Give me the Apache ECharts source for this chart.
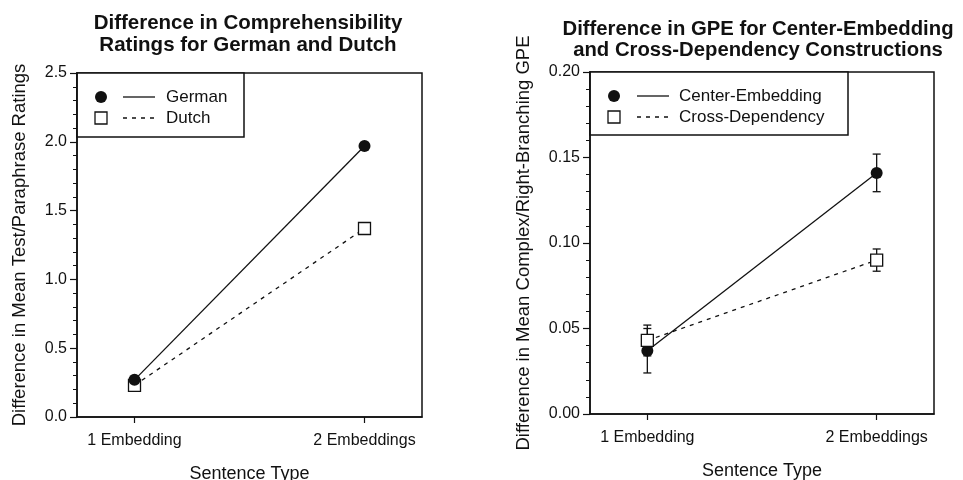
<!DOCTYPE html>
<html>
<head>
<meta charset="utf-8">
<script src="https://cdn.jsdelivr.net/npm/echarts@6/dist/echarts.min.js"></script>
<style>
  html, body { margin: 0; padding: 0; background: #fff; }
  #chart { width: 963px; height: 480px; }
</style>
</head>
<body>
<div id="chart"></div>
<script>
// categories on the x axis (placed at x = 1 and x = 2)
const categories = ['1 Embedding', '2 Embeddings'];
const catX = [1, 2];

// left panel: comprehensibility ratings
const germanVals = [0.27, 1.97];
const dutchVals = [0.23, 1.37];

// right panel: GPE, mean and error (+/-)
const centerVals = [0.037, 0.141];
const centerErr = [0.013, 0.011];
const crossVals = [0.043, 0.090];
const crossErr = [0.009, 0.0065];

const leftTicks = [0, 0.5, 1.0, 1.5, 2.0, 2.5];
const rightTicks = [0, 0.05, 0.10, 0.15, 0.20];

const FONT = '"Liberation Sans", Arial, Helvetica, sans-serif';
const INK = '#111';

const G1 = { left: 77, top: 73, width: 345, height: 344 };
const G2 = { left: 590, top: 72, width: 344, height: 342 };

const pts = vals => vals.map((v, i) => [catX[i], v]);
const errs = (vals, e) => vals.map((v, i) => [catX[i], v - e[i], v + e[i]]);

function xAxisOf(idx) {
  return {
    type: 'value', gridIndex: idx, min: 0.75, max: 2.25,
    axisLine: { show: true, onZero: false, lineStyle: { color: INK, width: 1.5 } },
    axisTick: { show: true, length: 6, customValues: catX, lineStyle: { color: INK, width: 1.2 } },
    axisLabel: {
      customValues: catX, margin: 16, color: INK, fontFamily: FONT, fontSize: 16,
      formatter: v => categories[Math.round(v) - 1] || ''
    },
    splitLine: { show: false },
    name: 'Sentence Type', nameLocation: 'middle', nameGap: 48,
    nameTextStyle: { color: INK, fontFamily: FONT, fontSize: 18 }
  };
}

function yAxisOf(idx, ticks, digits, name, gap) {
  return {
    type: 'value', gridIndex: idx, min: ticks[0], max: ticks[ticks.length - 1],
    interval: ticks[1] - ticks[0],
    axisLine: { show: true, lineStyle: { color: INK, width: 1.5 } },
    axisTick: { show: true, length: 7, lineStyle: { color: INK, width: 1.2 } },
    minorTick: { show: true, splitNumber: 5, length: 4, lineStyle: { color: INK, width: 1 } },
    axisLabel: { margin: 10, color: INK, fontFamily: FONT, fontSize: 16, formatter: v => v.toFixed(digits) },
    splitLine: { show: false },
    name: name, nameLocation: 'middle', nameGap: gap,
    nameTextStyle: { color: INK, fontFamily: FONT, fontSize: 18.5 }
  };
}

function errorBars(xi, yi, data, z) {
  return {
    type: 'custom', xAxisIndex: xi, yAxisIndex: yi, z: z, silent: true,
    data: data,
    renderItem: function (params, api) {
      const top = api.coord([api.value(0), api.value(2)]);
      const bot = api.coord([api.value(0), api.value(1)]);
      const w = 4;
      const style = { stroke: INK, lineWidth: 1.3 };
      return {
        type: 'group',
        children: [
          { type: 'line', shape: { x1: top[0], y1: top[1], x2: bot[0], y2: bot[1] }, style: style },
          { type: 'line', shape: { x1: top[0] - w, y1: top[1], x2: top[0] + w, y2: top[1] }, style: style },
          { type: 'line', shape: { x1: bot[0] - w, y1: bot[1], x2: bot[0] + w, y2: bot[1] }, style: style }
        ]
      };
    }
  };
}

const circleSeries = (name, xi, vals, z) => ({
  name: name, type: 'line', xAxisIndex: xi, yAxisIndex: xi, z: z,
  data: pts(vals), symbol: 'circle', symbolSize: 12,
  itemStyle: { color: INK }, lineStyle: { color: INK, width: 1.3 }, animation: false
});
const squareSeries = (name, xi, vals, z) => ({
  name: name, type: 'line', xAxisIndex: xi, yAxisIndex: xi, z: z,
  data: pts(vals), symbol: 'rect', symbolSize: 12, showAllSymbol: true,
  itemStyle: { color: '#fff', borderColor: INK, borderWidth: 1.3 },
  lineStyle: { color: INK, width: 1.3, type: [4, 5] }, animation: false
});

// legend boxes drawn as plain graphics (symbol, line sample, text)
function legendBox(x, y, w, h, labels, textX, sampleX) {
  const rows = [y + 24, y + 45];
  const kids = [{ type: 'rect', shape: { x: x, y: y, width: w, height: h }, style: { fill: '#fff', stroke: INK, lineWidth: 1.5 } }];
  kids.push({ type: 'circle', shape: { cx: x + 24, cy: rows[0], r: 6 }, style: { fill: INK } });
  kids.push({ type: 'rect', shape: { x: x + 18, y: rows[1] - 6, width: 12, height: 12 }, style: { fill: '#fff', stroke: INK, lineWidth: 1.3 } });
  kids.push({ type: 'line', shape: { x1: sampleX, y1: rows[0], x2: sampleX + 32, y2: rows[0] }, style: { stroke: INK, lineWidth: 1.3 } });
  kids.push({ type: 'line', shape: { x1: sampleX, y1: rows[1], x2: sampleX + 32, y2: rows[1] }, style: { stroke: INK, lineWidth: 1.3, lineDash: [4, 5] } });
  labels.forEach((t, i) => kids.push({
    type: 'text', x: textX, y: rows[i],
    style: { text: t, fill: INK, font: '17px ' + FONT, textVerticalAlign: 'middle' }
  }));
  return { type: 'group', z: 100, children: kids };
}

const gridBase = { show: true, borderColor: INK, borderWidth: 1.5, backgroundColor: '#fff', containLabel: false, outerBoundsMode: 'none' };

const chart = echarts.init(document.getElementById('chart'), null, { renderer: 'canvas' });
chart.setOption({
  backgroundColor: '#fff',
  animation: false,
  title: [
    {
      text: 'Difference in Comprehensibility\nRatings for German and Dutch',
      left: 243, top: 7, textAlign: 'center',
      textStyle: { fontFamily: FONT, fontSize: 20.5, fontWeight: 'bold', color: INK, lineHeight: 22 }
    },
    {
      text: 'Difference in GPE for Center-Embedding\nand Cross-Dependency Constructions',
      left: 753, top: 14, textAlign: 'center',
      textStyle: { fontFamily: FONT, fontSize: 20.3, fontWeight: 'bold', color: INK, lineHeight: 21 }
    }
  ],
  grid: [Object.assign({}, gridBase, G1), Object.assign({}, gridBase, G2)],
  xAxis: [xAxisOf(0), xAxisOf(1)],
  yAxis: [
    yAxisOf(0, leftTicks, 1, 'Difference in Mean Test/Paraphrase Ratings', 48),
    yAxisOf(1, rightTicks, 2, 'Difference in Mean Complex/Right-Branching GPE', 57)
  ],
  series: [
    squareSeries('Dutch', 0, dutchVals, 2),
    circleSeries('German', 0, germanVals, 3),
    errorBars(1, 1, errs(centerVals, centerErr), 2),
    circleSeries('Center-Embedding', 1, centerVals, 3),
    errorBars(1, 1, errs(crossVals, crossErr), 4),
    squareSeries('Cross-Dependency', 1, crossVals, 5)
  ],
  graphic: [
    legendBox(G1.left, G1.top, 167, 64, ['German', 'Dutch'], G1.left + 89, G1.left + 46),
    legendBox(G2.left, G2.top, 258, 63, ['Center-Embedding', 'Cross-Dependency'], G2.left + 89, G2.left + 47)
  ]
});
</script>
</body>
</html>
